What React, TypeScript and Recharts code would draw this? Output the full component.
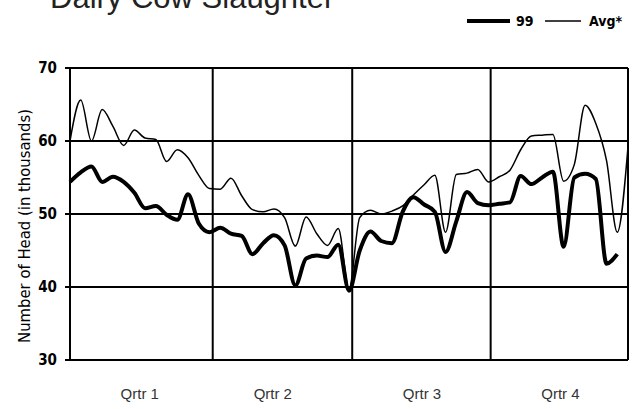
import { CartesianGrid, Line, LineChart, ReferenceLine, XAxis, YAxis } from "recharts";

// Weekly dairy cow slaughter, thousand head (week index 0 = first week of the year)
const AVG = [
  60.0, 65.6, 60.0, 64.3, 62.0, 59.4, 61.5, 60.4, 60.2, 57.2, 58.8, 57.7, 55.3,
  53.5, 53.4, 54.9, 52.5, 50.6, 50.3, 50.7, 49.5, 45.6, 49.6, 47.3, 45.7, 48.0,
  39.7, 49.5, 50.5, 50.0, 50.4, 51.1, 52.6, 54.0, 55.3, 47.5, 55.4, 55.6, 56.1,
  54.4, 55.1, 56.0, 58.8, 60.7, 60.8, 60.9, 54.5, 56.8, 64.9, 62.4, 57.3, 47.5,
  59.2,
];

const Y99 = [
  54.4, 55.7, 56.5, 54.4, 55.1, 54.4, 52.9, 50.8, 51.1, 49.9, 49.2, 52.7, 48.7,
  47.5, 48.1, 47.3, 47.0, 44.5, 46.0, 47.1, 45.7, 40.2, 43.9, 44.3, 44.1, 45.8,
  39.5, 45.0, 47.6, 46.3, 46.0, 50.3, 52.3, 51.3, 50.3, 44.8, 49.0, 53.0, 51.5,
  51.2, 51.4, 51.6, 55.2, 54.1, 55.0, 55.8, 45.5, 55.0, 55.5, 54.8, 43.2, 44.5,
];

const Y_TICKS = [30, 40, 50, 60, 70];
// quarter boundaries (in week index) and label positions
const QUARTER_EDGES = [13.3, 26.3, 39.2, 52];
const QUARTER_TICKS = [6.5, 18.9, 32.8, 45.7];
const QUARTER_LABELS = ["Qrtr 1", "Qrtr 2", "Qrtr 3", "Qrtr 4"];

const NARROW = "'Liberation Sans Narrow', 'DejaVu Sans Condensed', 'Arial Narrow', 'Liberation Sans', sans-serif";
const SANS = "'Liberation Sans', Arial, sans-serif";

const data = AVG.map((avg, i) => ({ week: i, avg, y99: Y99[i] ?? null }));

function quarterLabel(v: number) {
  const idx = QUARTER_TICKS.indexOf(v);
  return idx >= 0 ? QUARTER_LABELS[idx] : "";
}

// rotated y-axis title, a little left of the tick labels and slightly below centre
function YTitle(props: any) {
  const vb = props.viewBox ?? { x: 0, y: 0, width: 0, height: 0 };
  const cx = vb.x + 24;
  const cy = vb.y + vb.height / 2 + 12;
  return (
    <text
      x={cx}
      y={cy}
      transform={`rotate(-90, ${cx}, ${cy})`}
      textAnchor="middle"
      dominantBaseline="central"
      fontSize={16.5}
      fill="#000"
      fontFamily={NARROW}
    >
      Number of Head (in thousands)
    </text>
  );
}

export default function App() {
  return (
    <div style={{ position: "absolute", left: 0, top: 0, width: 633, height: 409, background: "#fff" }}>
      <LineChart
        width={633}
        height={409}
        data={data}
        margin={{ top: 68, right: 5, bottom: 0, left: 0 }}
      >
        <CartesianGrid vertical={false} stroke="#000" strokeWidth={2} />
        {QUARTER_EDGES.map((x) => (
          <ReferenceLine key={x} x={x} stroke="#000" strokeWidth={2} />
        ))}
        <XAxis
          dataKey="week"
          type="number"
          domain={[0, 52]}
          ticks={QUARTER_TICKS}
          tickFormatter={quarterLabel}
          interval={0}
          height={49}
          axisLine={{ stroke: "#000", strokeWidth: 2 }}
          tickLine={false}
          tickMargin={22}
          tick={{ fill: "#333", fontSize: 15, fontFamily: SANS }}
        />
        <YAxis
          domain={[30, 70]}
          ticks={Y_TICKS}
          width={70}
          axisLine={{ stroke: "#000", strokeWidth: 2 }}
          tickLine={{ stroke: "#000", strokeWidth: 2 }}
          tickSize={5}
          tickMargin={8}
          tick={{ fill: "#000", fontSize: 15, fontWeight: 700, fontFamily: NARROW }}
          label={{ content: YTitle }}
        />
        <Line
          type="monotone"
          dataKey="avg"
          stroke="#000"
          strokeWidth={1.5}
          dot={false}
          isAnimationActive={false}
        />
        <Line
          type="monotone"
          dataKey="y99"
          stroke="#000"
          strokeWidth={4}
          dot={false}
          isAnimationActive={false}
        />
      </LineChart>
      <svg
        width={633}
        height={40}
        style={{ position: "absolute", left: 0, top: 0, pointerEvents: "none" }}
      >
        <text x={50} y={8} fontSize={31} fill="#222" fontFamily={SANS}>
          Dairy Cow Slaughter
        </text>
        <line x1={467} x2={510} y1={21} y2={21} stroke="#000" strokeWidth={4} />
        <text x={516} y={26} fontSize={14} fontWeight={700} fontFamily={NARROW}>99</text>
        <line x1={545} x2={581} y1={21} y2={21} stroke="#000" strokeWidth={1.5} />
        <text x={589} y={26} fontSize={14} fontWeight={700} fontFamily={NARROW}>Avg*</text>
      </svg>
    </div>
  );
}
